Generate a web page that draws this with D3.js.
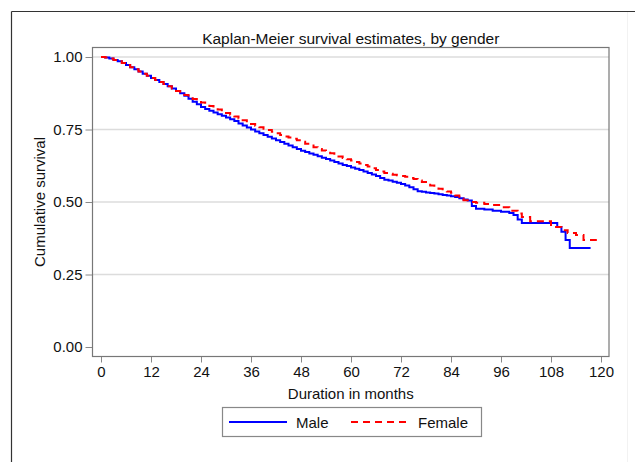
<!DOCTYPE html>
<html>
<head>
<meta charset="utf-8">
<script src="https://cdn.jsdelivr.net/npm/d3@7"></script>
<style>
  html, body { margin: 0; padding: 0; background: #fff; }
  svg { display: block; font-family: "Liberation Sans", Arial, sans-serif; }
</style>
</head>
<body>
<svg id="chart" width="635" height="462"></svg>
<script>
// Kaplan-Meier step estimates (months, cumulative survival)
const maleTimes = [0, 1, 2, 3, 4, 5, 6, 7, 8, 9, 10, 11, 12, 13, 14, 15, 16, 17, 18, 19, 20,
  21, 22, 23, 24, 25, 26, 27, 28, 29, 30, 31, 32, 33, 34, 35, 36, 37, 38, 39, 40,
  41, 42, 43, 44, 45, 46, 47, 48, 49, 50, 51, 52, 53, 54, 55, 56, 57, 58, 59, 60,
  61, 62, 63, 64, 65, 66, 67, 68, 69, 70, 71, 72, 73, 74, 75, 76, 77, 78, 79, 80,
  81, 82, 83, 84, 85, 86, 87, 88, 89, 90, 92, 94, 96, 98, 99, 100, 101,
  109.5, 110.5, 111.5, 112.5, 117.5];
const maleSurv = [1.000, 0.998, 0.995, 0.990, 0.985, 0.979, 0.972, 0.965, 0.958, 0.950, 0.942,
  0.935, 0.928, 0.921, 0.914, 0.907, 0.899, 0.891, 0.883, 0.875, 0.866,
  0.856, 0.846, 0.837, 0.828, 0.821, 0.815, 0.809, 0.803, 0.797, 0.791,
  0.785, 0.779, 0.771, 0.764, 0.757, 0.750, 0.743, 0.737, 0.731, 0.725,
  0.719, 0.713, 0.707, 0.701, 0.695, 0.689, 0.683, 0.677, 0.672, 0.667,
  0.663, 0.658, 0.653, 0.648, 0.643, 0.638, 0.633, 0.628, 0.624, 0.619,
  0.615, 0.610, 0.605, 0.600, 0.595, 0.590, 0.583, 0.577, 0.574, 0.570,
  0.566, 0.562, 0.557, 0.551, 0.544, 0.537, 0.535, 0.533, 0.531, 0.529,
  0.527, 0.524, 0.522, 0.520, 0.517, 0.513, 0.509, 0.505, 0.486, 0.477, 0.474, 0.470, 0.466,
  0.462, 0.455, 0.440, 0.428, 0.414, 0.397, 0.369, 0.341, 0.341];

const femaleTimes = [0, 1, 2, 3, 4, 5, 6, 7, 8, 9, 10, 11, 12, 13, 14, 15, 16, 17, 18, 19, 20,
  21, 22, 23, 24, 25, 26, 27, 28, 29, 30, 31, 32, 33, 34, 35, 36, 37, 38, 39, 40,
  41, 42, 43, 44, 45, 46, 47, 48, 49, 50, 51, 52, 53, 54, 55, 56, 57, 58, 59, 60,
  61, 62, 63, 64, 65, 66, 67, 68, 69, 70, 71, 72, 73, 74, 75, 76, 77, 78, 79, 80,
  81, 82, 83, 84, 85, 86, 87, 88, 90, 92, 94, 96, 98, 100, 101, 103, 108,
  110.5, 112, 114, 115.8, 119];
const femaleSurv = [1.000, 0.998, 0.995, 0.990, 0.985, 0.979, 0.972, 0.965, 0.958, 0.950, 0.942,
  0.935, 0.928, 0.921, 0.914, 0.907, 0.899, 0.891, 0.883, 0.876, 0.869,
  0.862, 0.855, 0.849, 0.843, 0.837, 0.831, 0.825, 0.819, 0.813, 0.807,
  0.801, 0.795, 0.788, 0.782, 0.775, 0.769, 0.763, 0.758, 0.753, 0.748,
  0.742, 0.737, 0.731, 0.726, 0.722, 0.718, 0.713, 0.708, 0.701, 0.695,
  0.689, 0.683, 0.678, 0.673, 0.668, 0.663, 0.657, 0.652, 0.647, 0.643,
  0.638, 0.633, 0.628, 0.622, 0.616, 0.610, 0.605, 0.600, 0.597, 0.594,
  0.592, 0.590, 0.587, 0.583, 0.579, 0.574, 0.569, 0.563, 0.557, 0.552,
  0.546, 0.540, 0.536, 0.532, 0.522, 0.512, 0.506, 0.500, 0.497, 0.493, 0.490, 0.482,
  0.470, 0.460, 0.448, 0.434, 0.414, 0.403, 0.393, 0.386, 0.369, 0.369];

const xTicks = [0, 12, 24, 36, 48, 60, 72, 84, 96, 108, 120];
const yTicks = [0, 0.25, 0.5, 0.75, 1];
const groupNames = ["Male", "Female"];

const svg = d3.select("#chart");
const FONT = 15;

const x = d3.scaleLinear().domain([0, 120]).range([101, 601]);
const y = d3.scaleLinear().domain([0, 1]).range([347, 57]);

// plot region box with padding around the data range
const box = { left: x(0) - 8.5, right: x(120) + 8, top: y(1) - 9.5, bottom: y(0) + 9.5 };

// outer frame
svg.append("line").attr("x1", 11.5).attr("x2", 635).attr("y1", 11.5).attr("y2", 11.5)
  .attr("stroke", "#333").attr("stroke-width", 1.2);
svg.append("line").attr("x1", 11.5).attr("x2", 11.5).attr("y1", 11.5).attr("y2", 462)
  .attr("stroke", "#333").attr("stroke-width", 1.2);
svg.append("line").attr("x1", 627.5).attr("x2", 627.5).attr("y1", 12).attr("y2", 462)
  .attr("stroke", "#f2f2f2").attr("stroke-width", 1);

// gridlines
svg.append("g").selectAll("line").data(yTicks.filter(d => d > 0)).join("line")
  .attr("x1", box.left).attr("x2", box.right)
  .attr("y1", d => y(d)).attr("y2", d => y(d))
  .attr("stroke", "#dcdcdc").attr("stroke-width", 1.5);

// axes
const yAxis = svg.append("g").attr("transform", `translate(${box.left},0)`)
  .call(d3.axisLeft(y).tickValues(yTicks).tickFormat(d3.format(".2f")).tickSize(7).tickPadding(3));
const xAxis = svg.append("g").attr("transform", `translate(0,${box.bottom})`)
  .call(d3.axisBottom(x).tickValues(xTicks).tickSize(6).tickPadding(4));
[yAxis, xAxis].forEach(g => {
  g.select(".domain").remove();
  g.selectAll(".tick line").attr("stroke", "#888");
  g.selectAll(".tick text").attr("fill", "#111").style("font-size", FONT + "px")
    .style("font-family", '"Liberation Sans", Arial, sans-serif');
});

// survival curves
const line = d3.line().x(d => x(d[0])).y(d => y(d[1])).curve(d3.curveStepAfter);
const male = d3.zip(maleTimes, maleSurv);
const female = d3.zip(femaleTimes, femaleSurv);

svg.append("path").datum(male).attr("d", line)
  .attr("fill", "none").attr("stroke", "#0000ff").attr("stroke-width", 2);
svg.append("path").datum(female).attr("d", line)
  .attr("fill", "none").attr("stroke", "#ff0000").attr("stroke-width", 2)
  .attr("stroke-dasharray", "7,5");

// plot box
svg.append("rect").attr("x", box.left).attr("y", box.top)
  .attr("width", box.right - box.left).attr("height", box.bottom - box.top)
  .attr("fill", "none").attr("stroke", "#777").attr("stroke-width", 1.2);

// titles
svg.append("text").attr("x", (box.left + box.right) / 2).attr("y", 44)
  .attr("text-anchor", "middle").style("font-size", "15.5px").attr("fill", "#111")
  .text("Kaplan-Meier survival estimates, by gender");
svg.append("text").attr("x", (box.left + box.right) / 2).attr("y", 399)
  .attr("text-anchor", "middle").style("font-size", FONT + "px").attr("fill", "#111")
  .text("Duration in months");
svg.append("text").attr("transform", `translate(45,${(y(0) + y(1)) / 2}) rotate(-90)`)
  .attr("text-anchor", "middle").style("font-size", FONT + "px").attr("fill", "#111")
  .text("Cumulative survival");

// legend
const lg = svg.append("g").attr("transform", "translate(222,407)");
lg.append("rect").attr("x", 0.5).attr("y", 0.5).attr("width", 259).attr("height", 29)
  .attr("fill", "#fff").attr("stroke", "#888").attr("stroke-width", 1.2);
const items = [
  { name: groupNames[0], color: "#0000ff", dash: null, x0: 7 },
  { name: groupNames[1], color: "#ff0000", dash: "7,5", x0: 129 }
];
items.forEach(it => {
  lg.append("line").attr("x1", it.x0).attr("x2", it.x0 + 58).attr("y1", 15).attr("y2", 15)
    .attr("stroke", it.color).attr("stroke-width", 2).attr("stroke-dasharray", it.dash);
  lg.append("text").attr("x", it.x0 + 67).attr("y", 20.5).style("font-size", FONT + "px")
    .attr("fill", "#111").text(it.name);
});
</script>
</body>
</html>
